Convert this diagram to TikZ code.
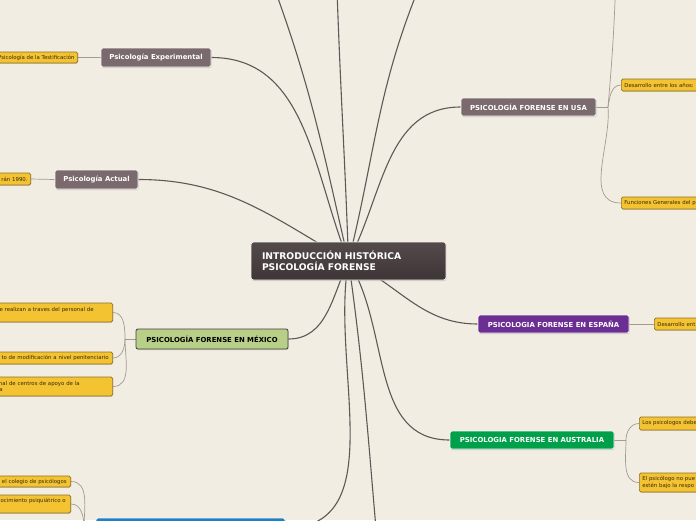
\documentclass[tikz,border=0pt]{standalone}
\usepackage{fontspec}
\setmainfont{DejaVu Sans}
\usetikzlibrary{shadows}
\definecolor{bgc}{HTML}{F2EDE2}
\definecolor{greyn}{HTML}{7A6A6D}
\definecolor{centertop}{HTML}{544A4C}
\definecolor{centerbot}{HTML}{3E3537}
\definecolor{purplen}{HTML}{6B2E92}
\definecolor{greenn}{HTML}{00A04B}
\definecolor{mexn}{HTML}{B8CF87}
\definecolor{bluen}{HTML}{1F80C4}
\definecolor{leaff}{HTML}{F3C332}
\definecolor{leafd}{HTML}{8F7124}
\definecolor{leaft}{HTML}{3A2A10}
\definecolor{linec}{HTML}{5E5959}
\definecolor{leafline}{HTML}{A19B91}
\pgfdeclarelayer{bg}
\pgfsetlayers{bg,main}
\newcommand{\padr}[1]{\rule{#1}{0pt}}
\tikzset{
  centerbox/.style={top color=centertop, bottom color=centerbot, draw=white!92!gray, line width=0.8pt,
    rounded corners=2.5pt, minimum height=38pt, text width=173pt, inner xsep=11pt, align=left,
    text=white, font=\fontsize{9.2}{11.5}\selectfont\bfseries,
    drop shadow={shadow xshift=0.6pt, shadow yshift=-1pt, opacity=0.3}},
  topic/.style={draw=white!92!gray, line width=0.8pt, rounded corners=2pt, text=white,
    font=\fontsize{6.9}{8}\selectfont\bfseries, inner xsep=3pt, inner ysep=0pt,
    drop shadow={shadow xshift=0.6pt, shadow yshift=-1pt, opacity=0.3}},
  leafbox/.style={fill=leaff, draw=leafd, line width=0.7pt, rounded corners=1.5pt, text=leaft,
    font=\fontsize{5.4}{6.8}\selectfont, inner xsep=3pt, inner ysep=0pt,
    drop shadow={shadow xshift=0.5pt, shadow yshift=-0.8pt, opacity=0.3}},
  mainline/.style={draw=linec, line width=1.1pt},
  subline/.style={draw=leafline, line width=0.7pt},
}
\begin{document}
\begin{tikzpicture}[x=1pt,y=-1pt]
\useasboundingbox (0,0) rectangle (696,520);
\begin{pgfonlayer}{bg}
  \fill[bgc] (0,0) rectangle (696,520);
\end{pgfonlayer}

% central node
\node[centerbox] (c) at (348.5,261) {INTRODUCCIÓN HISTÓRICA\\PSICOLOGÍA FORENSE};

% main topics
\node[topic, fill=greyn, minimum width=110pt, minimum height=19pt] (exp) at (156,57.5) {Psicología Experimental};
\node[topic, fill=greyn, minimum width=83pt, minimum height=19pt] (act) at (96.5,179.5) {Psicología Actual};
\node[topic, fill=greyn, minimum width=135pt, minimum height=18pt] (usa) at (528.5,107) {PSICOLOGÍA FORENSE EN USA};
\node[topic, fill=purplen, minimum width=151pt, minimum height=18pt] (esp) at (553.5,324) {PSICOLOGIA FORENSE EN ESPAÑA};
\node[topic, fill=greenn, minimum width=164pt, minimum height=18pt] (aus) at (532,440) {PSICOLOGIA FORENSE EN AUSTRALIA};
\node[topic, fill=mexn, draw=black!75, text=black, minimum width=152pt, minimum height=20pt] (mex) at (212,339) {PSICOLOGÍA FORENSE EN MÉXICO};
\node[topic, fill=bluen, minimum width=189pt, minimum height=20pt] (blue) at (190.5,528) {};

% leaves
\node[leafbox, anchor=east, minimum height=11pt] (lexp) at (78,57.5) {Psicología de la Testificación};
\node[leafbox, anchor=east, minimum height=12pt, text width=60pt, align=right] (lact) at (31,179) {rán 1990.};
\node[leafbox, anchor=west, minimum height=12pt, text width=110pt, align=left] (lusa1) at (621,85) {Desarrollo entre los años:};
\node[leafbox, anchor=west, minimum height=12pt, text width=110pt, align=left] (lusa2) at (621,203) {Funciones Generales del p};
\node[leafbox, anchor=west, minimum height=12pt, text width=80pt, align=left] (lesp) at (654,324) {Desarrollo ent};
\node[leafbox, anchor=west, minimum height=13pt, text width=90pt, align=left] (laus1) at (639,423.5) {Los psicologos debe};
\node[leafbox, anchor=west, minimum height=19pt, text width=90pt, align=left] (laus2) at (639,482.5) {El psicólogo no pue\\estén bajo la respo};
\node[leafbox, anchor=east, minimum height=19pt, text width=150pt, align=right] (lmex1) at (113,312.5) {e realizan a traves del personal de\padr{16pt}\\~};
\node[leafbox, anchor=east, minimum height=12pt, text width=150pt, align=right] (lmex2) at (113,358) {to de modificación a nivel penitenciario\padr{1pt}};
\node[leafbox, anchor=east, minimum height=19pt, text width=150pt, align=right] (lmex3) at (113,386.5) {nal de centros de apoyo de la\padr{30pt}\\a\padr{107pt}};
\node[leafbox, anchor=east, minimum height=11pt, text width=100pt, align=right] (lbl1) at (71,481.5) {r el colegio de psicólogos\padr{1pt}};
\node[leafbox, anchor=east, minimum height=18pt, text width=100pt, align=right] (lbl2) at (71,504) {ocimiento psiquiátrico o\padr{2pt}\\~};

% off-frame end points and forks
\coordinate (t1) at (275,-10);
\coordinate (t2) at (337,-10);
\coordinate (t3) at (418,-10);
\coordinate (b1) at (377,540);
\coordinate (fusa) at (608,107);
\coordinate (tusa) at (616,-25);
\coordinate (faus) at (626,440);
\coordinate (fmex) at (125,339);
\coordinate (fbl) at (84,528);

\begin{pgfonlayer}{bg}
  % central connectors
  \draw[mainline] (c.center) to[out=112, in=0] (exp.east);
  \draw[mainline] (c.center) to[out=150, in=0] (act.east);
  \draw[mainline] (c.center) to[out=103, in=-70] (t1);
  \draw[mainline] (c.center) to[out=92, in=-88] (t2);
  \draw[mainline] (c.center) to[out=76, in=-112] (t3);
  \draw[mainline] (c.center) to[out=62, in=180] (usa.west);
  \draw[mainline] (c.center) to[out=-25, in=180] (esp.west);
  \draw[mainline] (c.center) to[out=-58, in=180] (aus.west);
  \draw[mainline] (c.center) to[out=-115, in=0] (mex.east);
  \draw[mainline] (c.center) to[out=-100, in=0] (blue.east);
  \draw[mainline] (c.center) to[out=-82, in=95] (b1);
  % leaf connectors
  \draw[subline] (lexp.east) -- (exp.west);
  \draw[subline] (lact.east) -- (act.west);
  \draw[subline] (usa.east) -- (fusa);
  \draw[subline] (fusa) to[out=80, in=180] (lusa1.west);
  \draw[subline] (fusa) to[out=-85, in=180] (lusa2.west);
  \draw[subline] (fusa) to[out=85, in=-92] (tusa);
  \draw[subline] (esp.east) -- (lesp.west);
  \draw[subline] (aus.east) -- (faus);
  \draw[subline] (faus) to[out=90, in=180] (laus1.west);
  \draw[subline] (faus) to[out=-90, in=180] (laus2.west);
  \draw[subline] (mex.west) -- (fmex);
  \draw[subline] (fmex) to[out=90, in=0] (lmex1.east);
  \draw[subline] (fmex) to[out=-90, in=0] (lmex2.east);
  \draw[subline] (fmex) to[out=-90, in=0] (lmex3.east);
  \draw[subline] (blue.west) -- (fbl);
  \draw[subline] (fbl) to[out=90, in=0] (lbl1.east);
  \draw[subline] (fbl) to[out=90, in=0] (lbl2.east);
\end{pgfonlayer}
\end{tikzpicture}
\end{document}
